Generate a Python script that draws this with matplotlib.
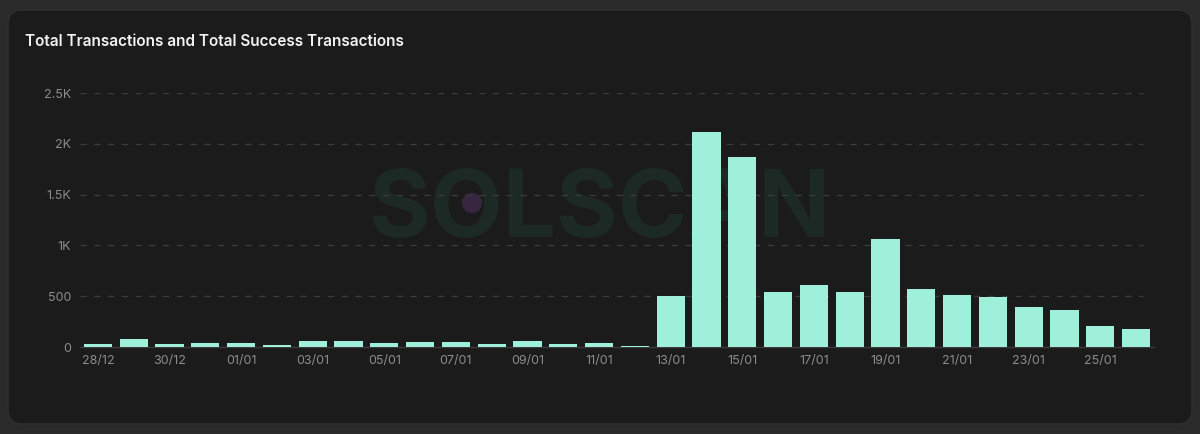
import matplotlib
matplotlib.use("Agg")
import matplotlib.pyplot as plt
from matplotlib.patches import FancyBboxPatch, Circle

dates = ["28/12", "29/12", "30/12", "31/12", "01/01", "02/01", "03/01", "04/01", "05/01",
         "06/01", "07/01", "08/01", "09/01", "10/01", "11/01", "12/01", "13/01", "14/01",
         "15/01", "16/01", "17/01", "18/01", "19/01", "20/01", "21/01", "22/01", "23/01",
         "24/01", "25/01", "26/01"]
transactions = [28, 78, 25, 40, 35, 22, 60, 62, 40, 48, 45, 30, 55, 32, 35, 12,
                500, 2118, 1873, 538, 607, 545, 1062, 568, 515, 490, 390, 362, 203, 175]
yticks = [0, 500, 1000, 1500, 2000, 2500]
yticklabels = ["0", "500", "1K", "1.5K", "2K", "2.5K"]
title = "Total Transactions and Total Success Transactions"

W, H = 1200, 434
fig = plt.figure(figsize=(W / 100, H / 100), dpi=100)
fig.patch.set_facecolor("#2a2a2a")

panel = FancyBboxPatch((8 / W, 10 / H), (1184 / W), (414 / H),
                       boxstyle="round,pad=0,rounding_size=0.012",
                       transform=fig.transFigure, facecolor="#1b1b1b",
                       edgecolor="#303030", linewidth=1.0, zorder=-3,
                       mutation_aspect=W / H)
fig.patches.append(panel)

fig.text(25 / W, 1 - 41 / H, title, color="#f2f2f2", fontsize=11,
         fontweight="semibold", family=["Inter", "DejaVu Sans"], va="center", ha="left")

# watermark
fig.text(600 / W, 1 - 212 / H, "SOLSCAN", color="#1c2925", fontsize=68,
         fontweight="bold", family=["Inter", "DejaVu Sans"], ha="center", va="center", zorder=-2)
fig.patches.append(Circle((4.72, (H - 203) / 100), 0.1, transform=fig.dpi_scale_trans,
                          facecolor="#382640", edgecolor="none", zorder=-1))

ax = fig.add_axes([80 / W, (H - 347) / H, (1154 - 80) / W, (347 - 93) / H])
ax.set_facecolor("none")
x = list(range(len(dates)))
ax.bar(x, transactions, width=0.79, color="#9ef0da", zorder=3)
ax.set_xlim(-0.5, len(dates) - 0.5)
ax.set_ylim(0, 2500)
ax.set_yticks(yticks)
ax.set_yticklabels(yticklabels)
ax.set_xticks(x[::2])
ax.set_xticklabels(dates[::2])
for s in ["top", "right", "left"]:
    ax.spines[s].set_visible(False)
ax.spines["bottom"].set_color("#3a3a3a")
ax.spines["bottom"].set_linewidth(1)
ax.tick_params(axis="both", length=0, colors="#8c8c8c", labelsize=9)
ax.tick_params(axis="y", pad=6.5)
ax.tick_params(axis="x", pad=6)
for lbl in ax.get_xticklabels() + ax.get_yticklabels():
    lbl.set_family(["Inter", "DejaVu Sans"])
# dashed horizontal grid that stops a little short of the right edge
ax.hlines(yticks[1:], -0.5, len(dates) - 0.81, colors="#3c3c3c",
          linestyles=[(0, (5, 6))], linewidth=0.9, zorder=1)

fig.savefig("out.png", dpi=100, facecolor=fig.get_facecolor())
